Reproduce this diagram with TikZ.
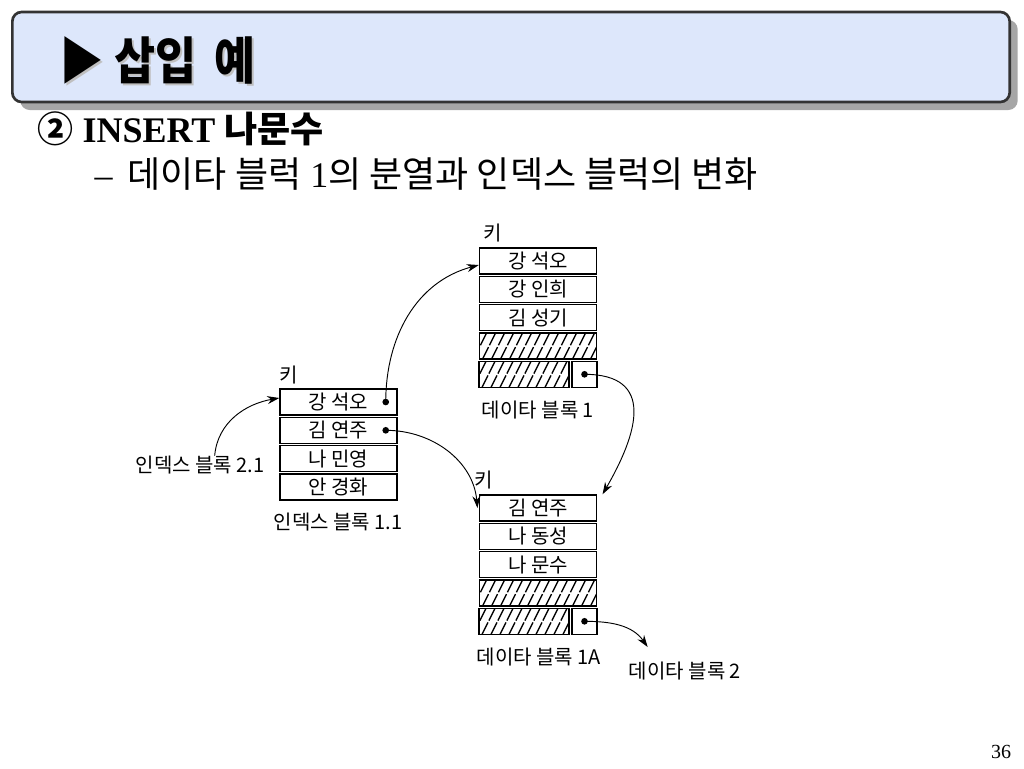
\documentclass[tikz,border=0pt]{standalone}
\usepackage{fontspec}
\setmainfont{Liberation Serif}
\newfontfamily\cjk{Noto Sans CJK KR}
\usetikzlibrary{arrows.meta,positioning,calc,shadows}

\begin{document}
\begin{tikzpicture}[
    x=0.75pt, y=-0.75pt,
    % --- Node styles ---
    titlebox/.style={draw=black!80, line width=2pt, rounded corners=7pt,
      fill={rgb,255:red,221;green,231;blue,251}, minimum width=748pt, minimum height=67.5pt,
      drop shadow={shadow xshift=6pt, shadow yshift=-6pt, fill=black!35, opacity=1}},
    keyrow/.style={draw, line width=1.1pt, minimum width=87.75pt, minimum height=19.5pt,
      inner sep=0pt, font=\cjk\fontsize{15}{15}\selectfont},
    hatchrow/.style={keyrow, path picture={
      \foreach \k in {-24,-15,...,130}
        \draw[line width=1pt, dash pattern=on 10pt off 1.5pt]
          ([xshift=\k*0.75pt]path picture bounding box.south west) -- ++(14,-28);}},
    ptrbox/.style={draw, line width=1.1pt, minimum width=18.75pt, minimum height=19.5pt, inner sep=0pt},
    dot/.style={circle, fill, inner sep=0pt, minimum size=5pt},
    lbl/.style={font=\cjk\fontsize{15}{15}\selectfont, inner sep=0pt},
    % --- Connector styles ---
    link/.style={-{Stealth[length=9pt, width=6pt]}, line width=0.7pt},
]
\useasboundingbox (0,0) rectangle (1024,768);

% === Title ===
\node[titlebox] (title) at (511,57) {};
\node[anchor=base west, text=black!25, font=\cjk\bfseries\fontsize{38}{38}\selectfont]
  at (57,81) {\scalebox{0.88}[1]{▶ 삽입\, 예}};
\node[anchor=base west, font=\cjk\bfseries\fontsize{38}{38}\selectfont] (ttext)
  at (55,79) {\scalebox{0.88}[1]{▶ 삽입\, 예}};
\node[anchor=base west, font=\fontsize{27}{27}\selectfont\bfseries] (head)
  at (33,142) {{\cjk ②} INSERT {\cjk 나문수}};
\node[anchor=base west, font=\fontsize{27}{27}\selectfont] (sub)
  at (90,187) {–\, {\cjk 데이타 블럭} 1{\cjk 의 분열과 인덱스 블럭의 변화}};

% === Index block 1.1 ===
\node[keyrow] (i1) at (338.5,402) {강 석오};
\node[keyrow] (i2) at (338.5,430.3) {김 연주};
\node[keyrow] (i3) at (338.5,458.6) {나 민영};
\node[keyrow] (i4) at (338.5,487) {안 경화};
\node[dot] (d1) at ([xshift=-9pt]i1.east) {};
\node[dot] (d2) at ([xshift=-9pt]i2.east) {};
\node[lbl] (k1) at (289,375) {키};
\node[lbl] (lb11) at (338,522) {인덱스 블록 1.1};
\node[lbl] (lb21) at (200,465) {인덱스 블록 2.1};

% === Data block 1 ===
\node[keyrow] (r1) at (538,261) {강 석오};
\node[keyrow] (r2) at (538,289.3) {강 인희};
\node[keyrow] (r3) at (538,317.6) {김 성기};
\node[hatchrow] (r4) at (538,346) {};
\node[hatchrow, minimum width=67.5pt] (r5) at (524,374.3) {};
\node[ptrbox] (p1) at (584.5,374.3) {};
\node[dot] (pd1) at (p1.center) {};
\node[lbl] (k2) at (493,233) {키};
\node[lbl] (lb1) at (538,410) {데이타 블록 1};

% === Data block 1A ===
\node[keyrow] (a1) at (538,508) {김 연주};
\node[keyrow] (a2) at (538,536.3) {나 동성};
\node[keyrow] (a3) at (538,564.6) {나 문수};
\node[hatchrow] (a4) at (538,593) {};
\node[hatchrow, minimum width=67.5pt] (a5) at (524,621.3) {};
\node[ptrbox] (pa) at (584.5,621.3) {};
\node[dot] (pda) at (pa.center) {};
\node[lbl] (k3) at (484,480) {키};
\node[lbl] (lb1a) at (539,657) {데이타 블록 1A};
\node[lbl] (lb2) at (685,671) {데이타 블록 2};

% === Pointers ===
\draw[link] ([xshift=11pt]lb21.north) to[out=85, in=190] ([yshift=3pt]i1.west);
\draw[link] (d1.center) to[out=90, in=195] ([yshift=-3pt]r1.west);
\draw[link] (d2.center) to[out=0, in=95] ([xshift=-1pt]a1.west);
\draw[link] (pd1.center) to[out=0, in=60, looseness=1.5] ([xshift=4pt]a1.north east);
\draw[link] (pda.center) to[out=0, in=125] ([xshift=-28pt, yshift=11pt]lb2.north);

% === Page number ===
\node[font=\fontsize{15}{15}\selectfont] (page) at (1001,752) {36};

\end{tikzpicture}
\end{document}
